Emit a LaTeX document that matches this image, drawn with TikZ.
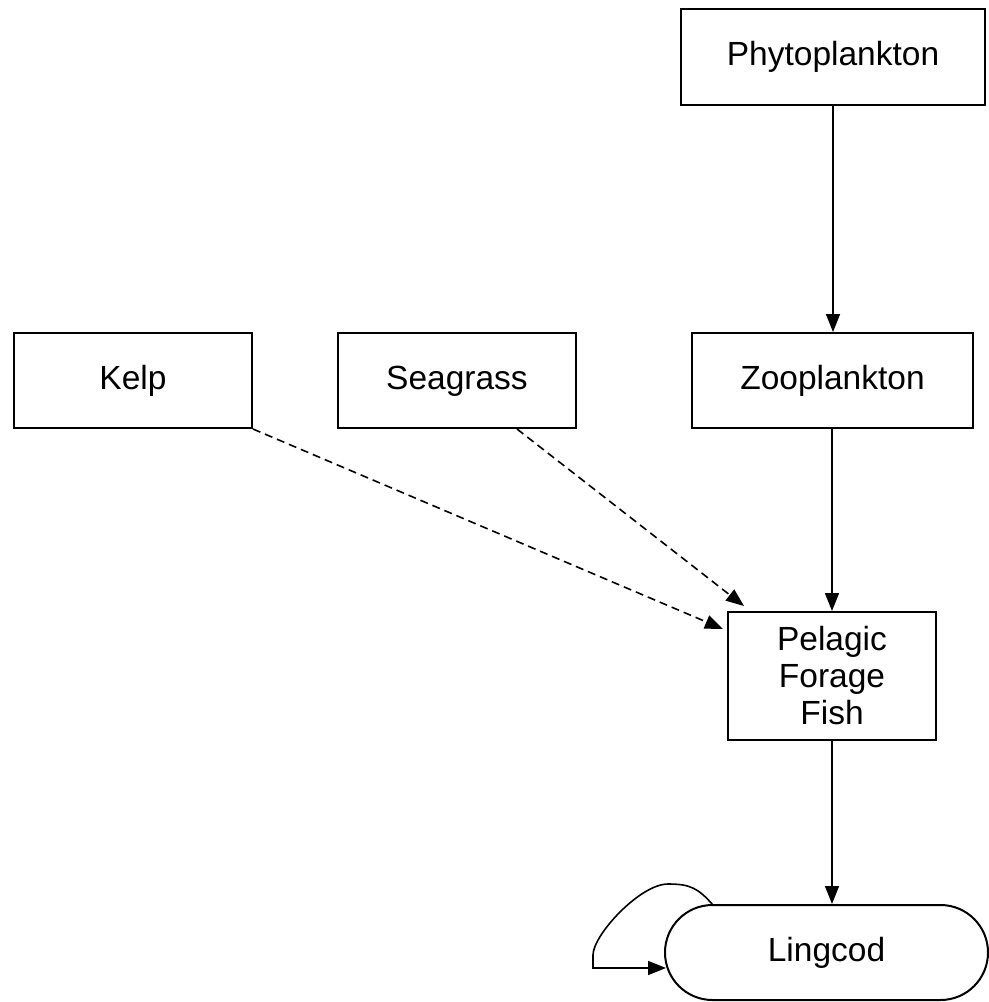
\documentclass[tikz,border=0pt]{standalone}
\usepackage{fontspec}
\setmainfont{Liberation Sans}
\usetikzlibrary{arrows.meta,calc}
\begin{document}
\begin{tikzpicture}[x=0.5pt,y=-0.5pt,
  box/.style={draw,line width=1pt,inner sep=0pt,align=center,font=\fontsize{16.75}{18.5}\selectfont},
  one/.style={text height=12pt,text depth=3.5pt},
  arr/.style={line width=0.8pt,-{Triangle[length=9pt,width=7pt]}},
  darr/.style={arr,dash pattern=on 4pt off 2.5pt}]
\useasboundingbox (0,0) rectangle (989,1002);
\node[box,one,minimum width=152pt,minimum height=48pt] (phy) at (833,57) {Phytoplankton};
\node[box,one,minimum width=119pt,minimum height=47.5pt] (kelp) at (133,380.5) {Kelp};
\node[box,one,minimum width=119pt,minimum height=47.5pt] (sea) at (457,380.5) {Seagrass};
\node[box,one,minimum width=140.5pt,minimum height=47.5pt] (zoo) at (832.5,380.5) {Zooplankton};
\node[box,minimum width=104pt,minimum height=64pt] (pel) at (832,676) {Pelagic\\Forage\\Fish};
\node[box,one,minimum width=161.5pt,minimum height=47.5pt,rounded corners=23.75pt] (ling) at (826.5,952.5) {Lingcod};
\draw[arr] (phy.south) -- (zoo.north -| phy.south);
\draw[arr] (zoo.south -| pel.north) -- (pel.north);
\draw[arr] (pel.south) -- (ling.north -| pel.south);
\draw[darr] (kelp.south east) -- ([shift={(-4,18)}]pel.north west);
\draw[darr] ([shift={(60,0)}]sea.south) -- ([shift={(17,-5)}]pel.north west);
\coordinate (ls) at (713,905);
\coordinate (le) at (666,968);
\draw[arr] (ls) .. controls (698,888) and (690,884) .. (668,884)
  .. controls (640,884) and (593,935) .. (593,955) -- (593,968) -- (le);
\end{tikzpicture}
\end{document}
